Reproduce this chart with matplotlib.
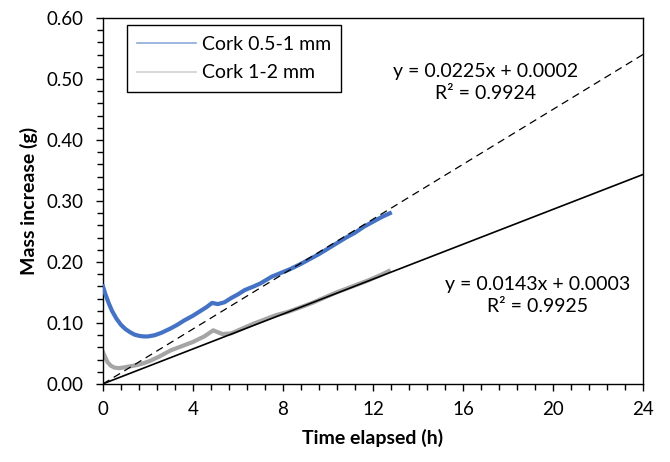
import matplotlib.pyplot as plt
from matplotlib.lines import Line2D
from matplotlib.ticker import MultipleLocator, FormatStrFormatter

plt.rcParams['font.family'] = ['Lato', 'DejaVu Sans']

# Cork 0.5-1 mm
t_fine = [0.0, 0.1, 0.25, 0.4, 0.6, 0.8, 1.0, 1.2, 1.4, 1.6, 1.8, 2.0, 2.3, 2.6, 3.0, 3.3,
          3.6, 4.0, 4.3, 4.6, 4.85, 5.1, 5.4, 5.7, 6.0, 6.3, 6.7, 7.0, 7.5, 7.9, 8.3, 8.8,
          9.2, 9.6, 10.0, 10.4, 10.8, 11.2, 11.6, 12.0, 12.4, 12.75]
m_fine = [0.160, 0.148, 0.133, 0.120, 0.107, 0.097, 0.090, 0.085, 0.081, 0.079, 0.078, 0.078,
          0.080, 0.084, 0.091, 0.097, 0.104, 0.112, 0.119, 0.126, 0.133, 0.131, 0.134, 0.141,
          0.147, 0.154, 0.160, 0.165, 0.176, 0.182, 0.188, 0.197, 0.205, 0.213, 0.222, 0.231,
          0.240, 0.248, 0.258, 0.266, 0.274, 0.280]

# Cork 1-2 mm
t_coarse = [0.0, 0.1, 0.2, 0.35, 0.5, 0.7, 0.9, 1.2, 1.5, 1.8, 2.1, 2.5, 3.0, 3.5, 4.0,
            4.5, 4.9, 5.3, 5.7, 6.2, 6.7, 7.2, 7.7, 8.2, 8.8, 9.3, 9.8, 10.3, 10.8, 11.3,
            11.8, 12.3, 12.7]
m_coarse = [0.052, 0.044, 0.036, 0.030, 0.027, 0.026, 0.027, 0.029, 0.031, 0.034, 0.038, 0.045,
            0.055, 0.062, 0.069, 0.078, 0.088, 0.082, 0.083, 0.091, 0.099, 0.106, 0.113, 0.118,
            0.126, 0.133, 0.141, 0.149, 0.156, 0.163, 0.170, 0.178, 0.185]

# linear trendlines
slope_fine, icpt_fine, r2_fine = 0.0225, 0.0002, 0.9924
slope_coarse, icpt_coarse, r2_coarse = 0.0143, 0.0003, 0.9925
t_trend = [0, 24]

fs = 14

fig = plt.figure(figsize=(6.7, 4.62), dpi=100)
ax = fig.add_axes([0.1537, 0.1688, 0.806, 0.7922])

ax.plot(t_fine, m_fine, color='#4472C4', lw=3.0, solid_joinstyle='round', zorder=3)
ax.plot(t_coarse, m_coarse, color='#A5A5A5', lw=3.0, solid_joinstyle='round', zorder=2)
ax.plot(t_trend, [slope_fine * t + icpt_fine for t in t_trend], color='black', lw=0.9,
        dashes=(6, 4), zorder=4)
ax.plot(t_trend, [slope_coarse * t + icpt_coarse for t in t_trend], color='black', lw=1.2,
        zorder=4)

ax.text(17.0, 0.494, 'y = %.4fx + %.4f\nR² = %.4f' % (slope_fine, icpt_fine, r2_fine),
        ha='center', va='center', fontsize=fs, linespacing=1.35)
ax.text(19.3, 0.145, 'y = %.4fx + %.4f\nR² = %.4f' % (slope_coarse, icpt_coarse, r2_coarse),
        ha='center', va='center', fontsize=fs, linespacing=1.35)

ax.set_xlim(0, 24)
ax.set_ylim(0, 0.6)
ax.xaxis.set_major_locator(MultipleLocator(4))
ax.xaxis.set_minor_locator(MultipleLocator(0.8))
ax.yaxis.set_major_locator(MultipleLocator(0.1))
ax.yaxis.set_minor_locator(MultipleLocator(0.02))
ax.yaxis.set_major_formatter(FormatStrFormatter('%.2f'))
ax.tick_params(which='both', direction='out', labelsize=13.5, width=1, color='black')
ax.tick_params(which='major', length=5)
ax.tick_params(which='minor', length=4)
ax.tick_params(axis='x', pad=7)
ax.tick_params(axis='y', pad=9)
for s in ax.spines.values():
    s.set_linewidth(1.0)

ax.set_xlabel('Time elapsed (h)', fontsize=fs, fontweight='bold', labelpad=8)
ax.set_ylabel('Mass increase (g)', fontsize=fs, fontweight='bold', labelpad=6)

handles = [Line2D([], [], color='#8EAADB', lw=1.2), Line2D([], [], color='#D0D0D0', lw=1.2)]
leg = ax.legend(handles, ['Cork 0.5-1 mm', 'Cork 1-2 mm'], loc='upper left',
                bbox_to_anchor=(0.044, 0.981), fontsize=fs, fancybox=False,
                edgecolor='black', framealpha=1, handlelength=3.0, handletextpad=0.3,
                borderpad=0.55, labelspacing=0.6, borderaxespad=0)
leg.get_frame().set_linewidth(1.0)

fig.savefig('out.png', dpi=100)
